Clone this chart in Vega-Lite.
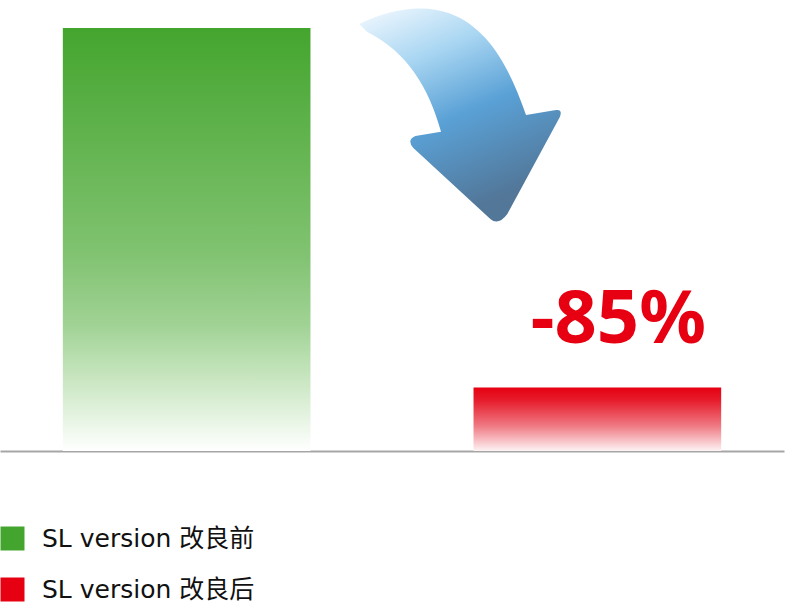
{
  "$schema": "https://vega.github.io/schema/vega-lite/v6.json",
  "width": 784,
  "height": 451,
  "autosize": "none",
  "padding": {"left": 0, "top": 0, "right": 16, "bottom": 155},
  "background": "#ffffff",
  "config": {"view": {"stroke": null}},
  "data": {"values": [
    {"version": "SL version 改良前", "value": 100, "label": ""},
    {"version": "SL version 改良后", "value": 15, "label": "-85%"}
  ]},
  "encoding": {
    "x": {"field": "version", "type": "nominal", "sort": null,
      "scale": {"paddingInner": 0.397, "paddingOuter": 0.153},
      "axis": {"labels": false, "ticks": false, "title": null, "domainColor": "#a6a6a6", "domainWidth": 2}},
    "y": {"field": "value", "type": "quantitative",
      "scale": {"domain": [0, 106.62], "nice": false, "zero": true},
      "axis": null}
  },
  "layer": [
    {
      "transform": [{"filter": "datum.version === 'SL version 改良前'"}],
      "mark": {"type": "bar", "fill": {"gradient": "linear", "x1": 0, "y1": 0, "x2": 0, "y2": 1,
        "stops": [{"offset": 0, "color": "#44a52e"}, {"offset": 0.53, "color": "#80c270"}, {"offset": 0.7, "color": "#a0d294"}, {"offset": 0.85, "color": "#cfe9c8"}, {"offset": 1, "color": "#ffffff"}]}}
    },
    {
      "transform": [{"filter": "datum.version === 'SL version 改良后'"}],
      "mark": {"type": "bar", "fill": {"gradient": "linear", "x1": 0, "y1": 0, "x2": 0, "y2": 1,
        "stops": [{"offset": 0, "color": "#e60012"}, {"offset": 0.2, "color": "#e61c2b"}, {"offset": 0.6, "color": "#ef7882"}, {"offset": 1, "color": "#fdf3f4"}]}}
    },
    {
      "mark": {"type": "square", "size": 0, "opacity": 1},
      "encoding": {
        "color": {"field": "version", "type": "nominal", "sort": null,
          "scale": {"domain": ["SL version 改良前", "SL version 改良后"], "range": ["#44a52e", "#e60012"]},
          "legend": {"orient": "none", "legendX": 0, "legendY": 526, "title": null,
            "symbolType": "square", "symbolSize": 576, "symbolOpacity": 1, "symbolStrokeWidth": 0,
            "labelFont": "DejaVu Sans, Noto Sans CJK SC", "labelFontSize": 25, "labelColor": "#111111",
            "labelOffset": 17, "rowPadding": 25, "labelLimit": 400}}
      }
    },
    {
      "transform": [{"filter": "datum.version === 'SL version 改良后'"}],
      "mark": {"type": "text", "font": "Noto Sans", "fontSize": 74, "fontWeight": "bold",
        "color": "#e60012", "align": "center", "baseline": "alphabetic", "dx": 21, "dy": -45},
      "encoding": {"text": {"field": "label"}}
    },
    {
      "transform": [{"filter": "datum.version === 'SL version 改良后'"}],
      "mark": {"type": "point", "filled": true, "opacity": 1, "strokeWidth": 0, "size": 48400,
        "shape": "M -2.1636 -0.0364 C -1.9182 -0.1591 -1.6 -0.2282 -1.3455 -0.1336 C -0.9636 0.0073 -0.7845 0.4091 -0.6482 0.7909 L -0.3755 0.7455 Q -0.3136 0.7364 -0.3409 0.8091 L -0.8182 1.6909 Q -0.9 1.8 -0.9727 1.7364 L -1.6727 1.0909 Q -1.7364 1.0182 -1.6545 0.9818 L -1.4209 0.9427 C -1.53 0.5455 -1.7273 0.2182 -2.0909 0.0364 Z",
        "fill": {"gradient": "linear", "x1": 0, "y1": 0, "x2": 0.4, "y2": 1,
          "stops": [{"offset": 0, "color": "#f5faff"}, {"offset": 0.3, "color": "#a9d6f2"}, {"offset": 0.6, "color": "#5aa1d6"}, {"offset": 1, "color": "#527799"}]}},
      "encoding": {"y": {"datum": 100, "type": "quantitative"}}
    }
  ]
}
